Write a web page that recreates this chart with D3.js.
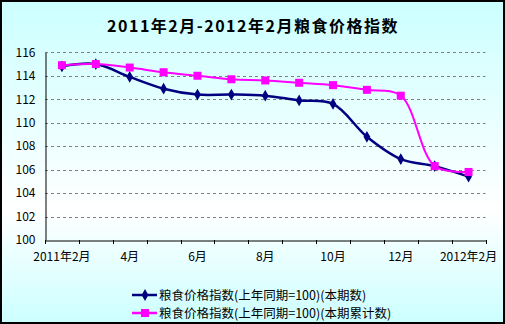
<!DOCTYPE html>
<html><head><meta charset="utf-8">
<script src="https://cdn.jsdelivr.net/npm/d3@7"></script>
<style>html,body{margin:0;padding:0;overflow:hidden;}svg{display:block;}</style>
</head><body>
<script>
const categories = ["2011年2月","3月","4月","5月","6月","7月","8月","9月","10月","11月","12月","2012年1月","2012年2月"];
const tickLabels = ["2011年2月","","4月","","6月","","8月","","10月","","12月","","2012年2月"];
const seriesNames = ["粮食价格指数(上年同期=100)(本期数)","粮食价格指数(上年同期=100)(本期累计数)"];
const currentValues = [114.8,115.0,113.9,112.9,112.4,112.4,112.3,111.9,111.6,108.8,106.9,106.3,105.4];
const cumulativeValues = [114.9,115.0,114.7,114.3,114.0,113.7,113.6,113.4,113.2,112.8,112.3,106.3,105.8];
const yTicks = [100,102,104,106,108,110,112,114,116];

const W=505,H=324;
const svg=d3.select("body").append("svg").attr("width",W).attr("height",H);
const defs=svg.append("defs");
const g=defs.append("linearGradient").attr("id","bg").attr("x1",0).attr("y1",0).attr("x2",0).attr("y2",1);
g.append("stop").attr("offset","0%").attr("stop-color","#ccffff");
g.append("stop").attr("offset","65%").attr("stop-color","#ffffff");
g.append("stop").attr("offset","100%").attr("stop-color","#ccffff");
svg.append("rect").attr("x",1).attr("y",1).attr("width",W-2).attr("height",H-2).attr("fill","url(#bg)").attr("stroke","#000").attr("stroke-width",2);

const font='"Noto Sans CJK SC","DejaVu Sans",sans-serif';
svg.append("text").attr("x",253).attr("y",32).attr("text-anchor","middle").attr("font-family",font).attr("font-weight","bold").attr("font-size",16).attr("letter-spacing",1.5).text("2011年2月-2012年2月粮食价格指数");

const x0=45,x1=485.5,yTop=52.3,yBot=240;
const x=d3.scaleBand().domain(categories).range([x0,x1]);
const y=d3.scaleLinear().domain([100,116]).range([yBot,yTop]);

// grid
svg.append("g").selectAll("line").data(yTicks.filter(d=>d>100)).join("line")
 .attr("x1",x0).attr("x2",x1).attr("y1",d=>Math.round(y(d))+0.5).attr("y2",d=>Math.round(y(d))+0.5)
 .attr("stroke","#808080").attr("stroke-dasharray","3,3");

// y axis
const ya=svg.append("g").attr("transform",`translate(${x0+0.5},0)`)
 .call(d3.axisLeft(y).tickValues(yTicks).tickSize(0).tickPadding(10));
ya.select(".domain").attr("stroke","#000");
ya.selectAll("text").attr("font-family",font).attr("font-size",12).attr("fill","#000");

// x axis
const xa=svg.append("g").attr("transform",`translate(0,${yBot+0.5})`)
 .call(d3.axisBottom(x).tickSize(0).tickPadding(12).tickFormat((d,i)=>tickLabels[i]));
xa.select(".domain").attr("stroke","#000");
xa.selectAll("text").attr("font-family",font).attr("font-size",12).attr("fill","#000");
svg.append("g").selectAll("line").data(d3.range(categories.length+1)).join("line")
 .attr("x1",i=>Math.round(x0+i*x.step())+0.5).attr("x2",i=>Math.round(x0+i*x.step())+0.5)
 .attr("y1",yBot).attr("y2",yBot+4).attr("stroke","#000");

const cx=(d,i)=>x(categories[i])+x.bandwidth()/2;
const line=d3.line().x(cx).y(d=>y(d)).curve(d3.curveCatmullRom.alpha(0.5));

svg.append("path").datum(currentValues).attr("d",line).attr("fill","none").attr("stroke","#000080").attr("stroke-width",2.5);
svg.append("path").datum(cumulativeValues).attr("d",line).attr("fill","none").attr("stroke","#ff00ff").attr("stroke-width",2);

const diamond=d3.symbol().type(d3.symbolDiamond).size(40);
svg.append("g").selectAll("path").data(currentValues).join("path")
 .attr("transform",(d,i)=>`translate(${cx(d,i)},${y(d)})`).attr("d",diamond).attr("fill","#000080");
svg.append("g").selectAll("rect").data(cumulativeValues).join("rect")
 .attr("x",(d,i)=>cx(d,i)-4).attr("y",d=>y(d)-4).attr("width",8).attr("height",8).attr("fill","#ff00ff");

// legend
const leg=[{c:"#000080",m:"d"},{c:"#ff00ff",m:"s"}];
leg.forEach((l,i)=>{
 const ly=295+i*18;
 svg.append("line").attr("x1",132).attr("x2",157).attr("y1",ly).attr("y2",ly).attr("stroke",l.c).attr("stroke-width",2.5);
 if(l.m==="d") svg.append("path").attr("transform",`translate(145,${ly})`).attr("d",diamond).attr("fill",l.c);
 else svg.append("rect").attr("x",141).attr("y",ly-4).attr("width",8).attr("height",8).attr("fill",l.c);
 svg.append("text").attr("x",159).attr("y",ly+5).attr("font-family",font).attr("font-size",12.5).text(seriesNames[i]);
});
</script>
</body></html>
